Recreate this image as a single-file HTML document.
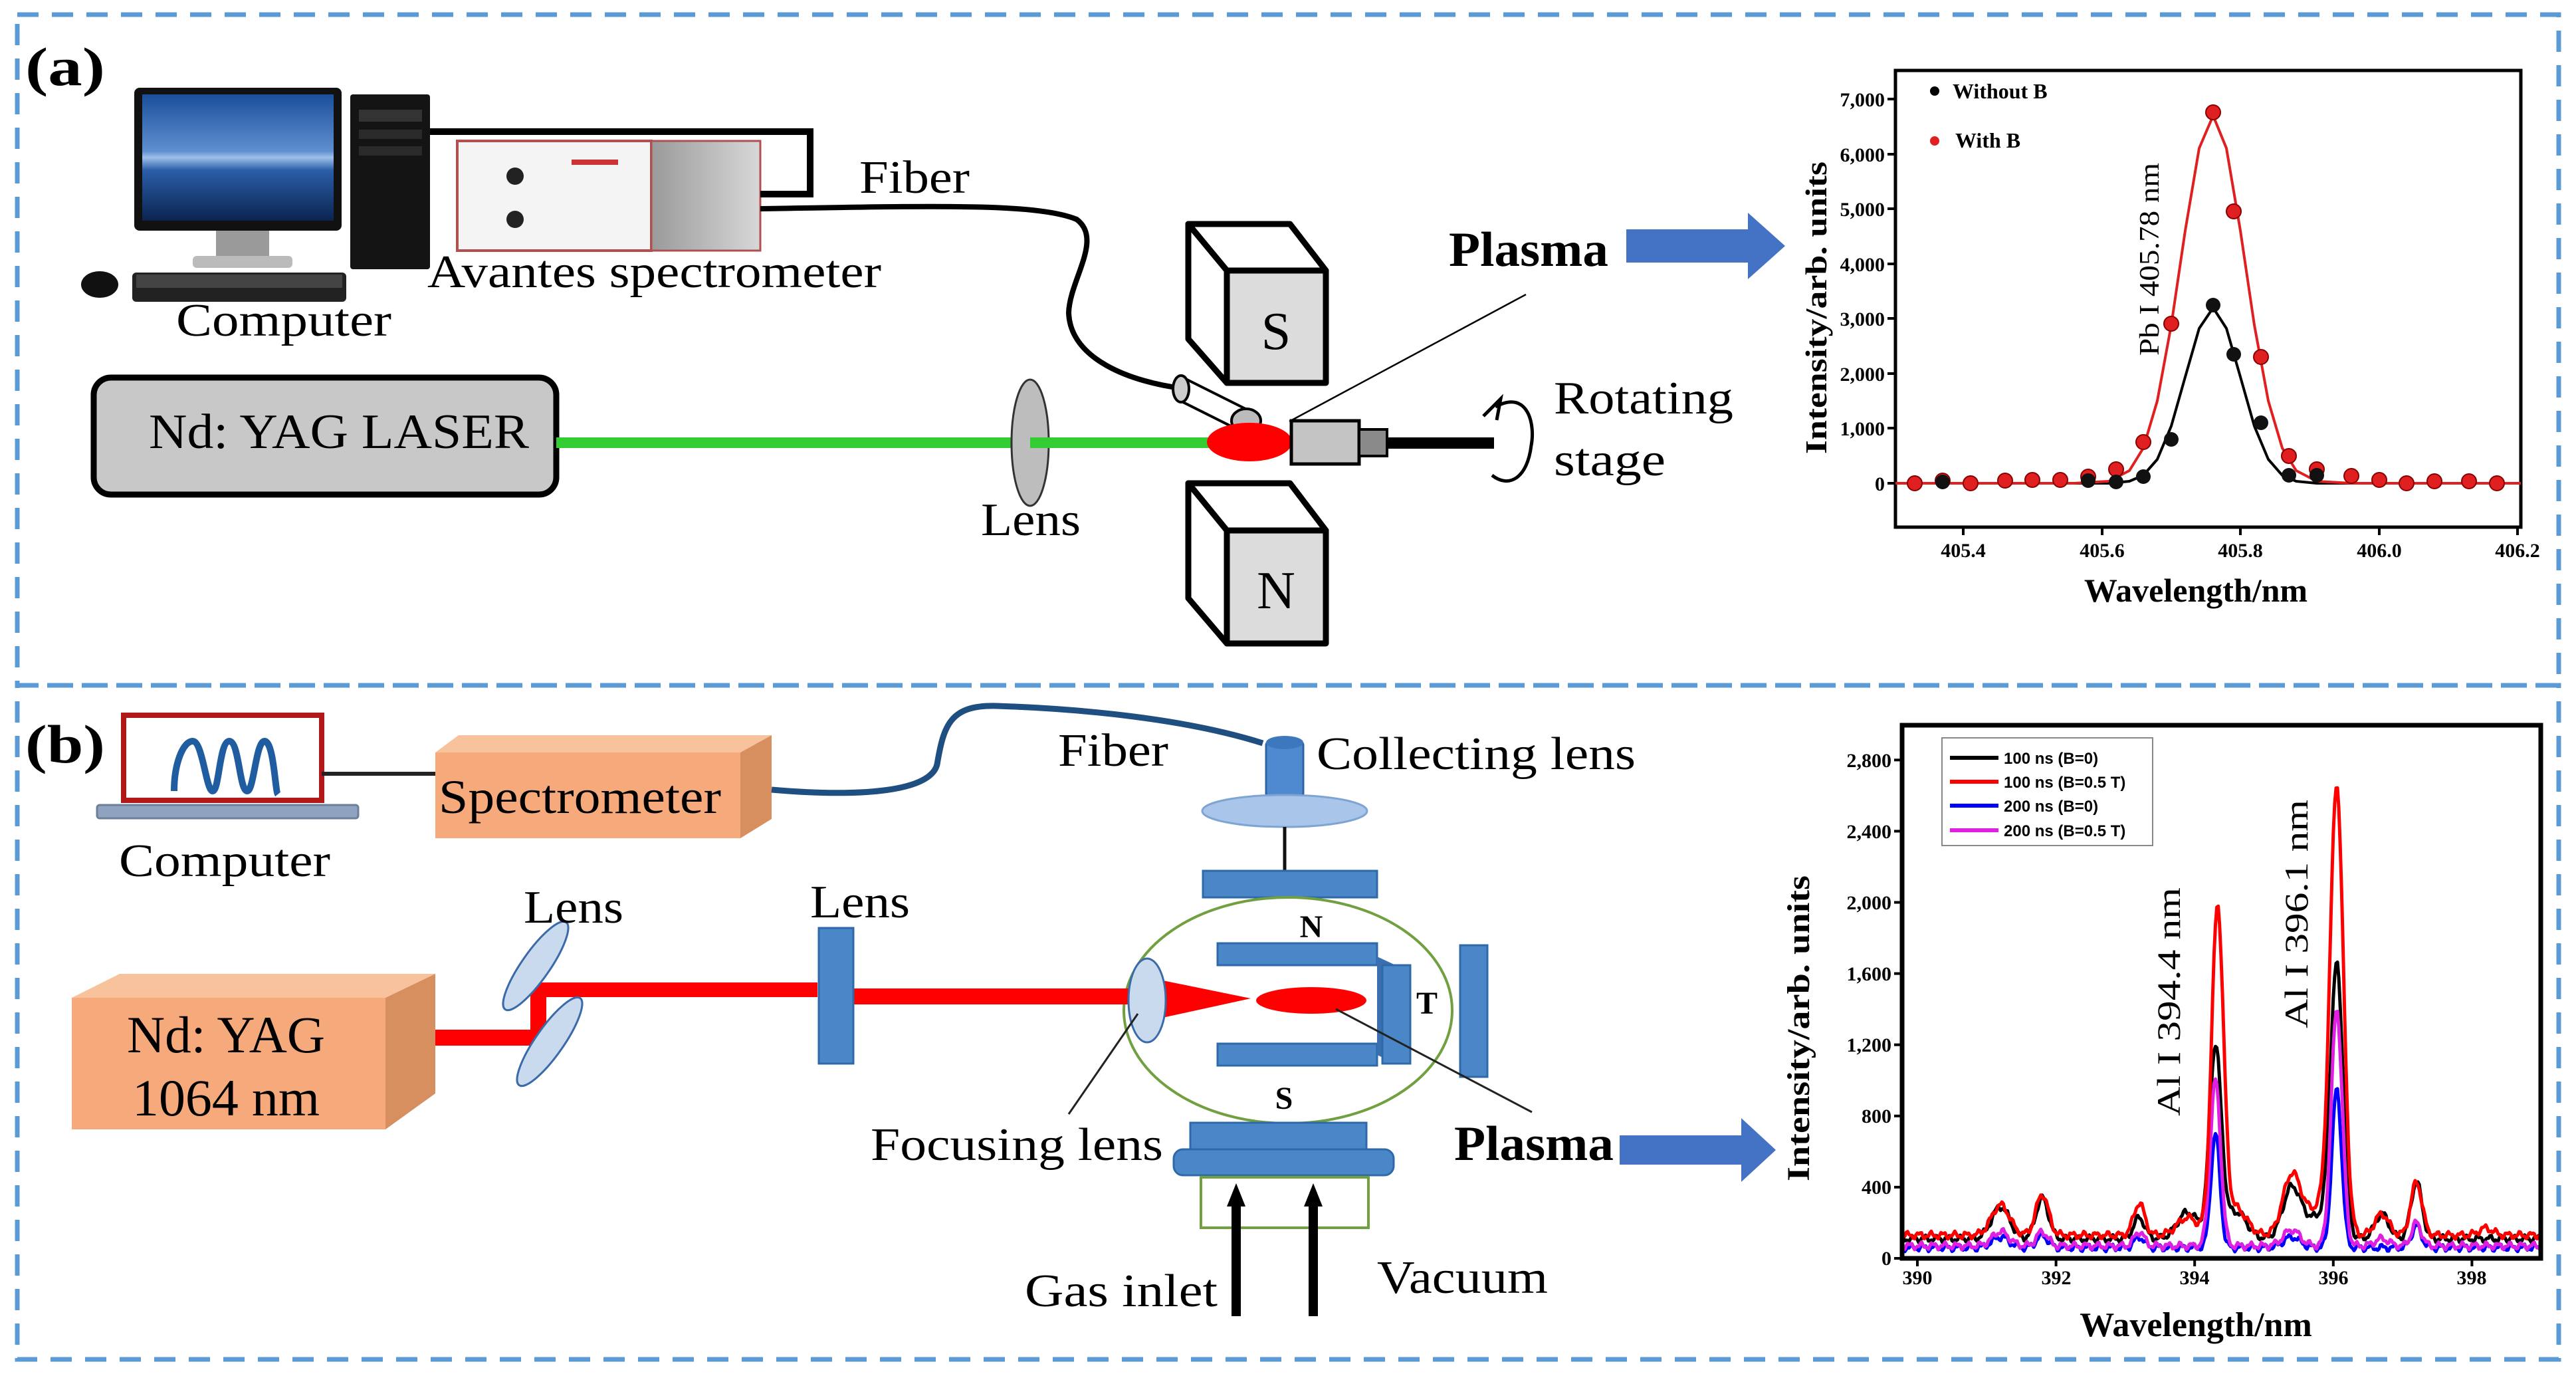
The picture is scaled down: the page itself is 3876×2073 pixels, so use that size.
<!DOCTYPE html>
<html><head><meta charset="utf-8"><style>
html,body{margin:0;padding:0;background:#fff;}
svg{display:block;}
text{font-family:"Liberation Serif",serif;}
.sans{font-family:"Liberation Sans",sans-serif;}
</style></head><body>
<svg width="3876" height="2073" viewBox="0 0 3876 2073" xmlns="http://www.w3.org/2000/svg">
<defs>
<linearGradient id="scr" x1="0" y1="0" x2="0" y2="1">
<stop offset="0" stop-color="#1a4f9a"/><stop offset="0.45" stop-color="#5f8fd0"/><stop offset="0.5" stop-color="#9ec0ea"/><stop offset="0.6" stop-color="#2a5ea8"/><stop offset="1" stop-color="#0c2350"/></linearGradient>
<linearGradient id="spside" x1="0" y1="0" x2="1" y2="0"><stop offset="0" stop-color="#9a9a9a"/><stop offset="1" stop-color="#d8d8d8"/></linearGradient>
</defs>
<rect width="3876" height="2073" fill="#fff"/>
<g fill="none" stroke="#5b9bd5" stroke-width="7" stroke-dasharray="32 20">
<rect x="26" y="22" width="3824" height="1009"/>
<rect x="26" y="1031" width="3824" height="1014"/>
</g>

<!-- ============ PANEL A ============ -->
<text x="38" y="128" font-size="82" font-weight="bold" textLength="120" lengthAdjust="spacingAndGlyphs">(a)</text>
<rect x="202" y="132" width="312" height="215" rx="8" fill="#111"/>
<rect x="214" y="142" width="288" height="190" fill="url(#scr)"/>
<rect x="325" y="347" width="80" height="40" fill="#9a9a9a"/>
<rect x="290" y="385" width="150" height="18" rx="6" fill="#bbb"/>
<rect x="527" y="142" width="120" height="263" rx="4" fill="#141414"/>
<rect x="540" y="165" width="95" height="18" fill="#333"/>
<rect x="540" y="195" width="95" height="14" fill="#2a2a2a"/>
<rect x="540" y="220" width="95" height="14" fill="#2a2a2a"/>
<rect x="199" y="410" width="322" height="44" rx="6" fill="#222"/>
<rect x="205" y="413" width="310" height="20" fill="#444"/>
<ellipse cx="150" cy="428" rx="28" ry="20" fill="#111"/>
<rect x="688" y="212" width="292" height="165" fill="#f4f4f4" stroke="#b05050" stroke-width="4"/>
<rect x="980" y="212" width="164" height="165" fill="url(#spside)" stroke="#b05050" stroke-width="3"/>
<circle cx="775" cy="265" r="13" fill="#222"/><circle cx="775" cy="330" r="13" fill="#222"/>
<rect x="860" y="240" width="70" height="8" fill="#c33"/>
<path d="M647,198 L1219,198 L1219,292 L1144,292" fill="none" stroke="#000" stroke-width="10"/>
<text x="265" y="505" font-size="70" textLength="324" lengthAdjust="spacingAndGlyphs">Computer</text>
<text x="643" y="432" font-size="70" textLength="683" lengthAdjust="spacingAndGlyphs">Avantes spectrometer</text>
<text x="1293" y="290" font-size="70" textLength="166" lengthAdjust="spacingAndGlyphs">Fiber</text>
<path d="M1144,314 C1400,310 1560,305 1620,330 C1660,360 1610,420 1608,470 C1610,540 1700,575 1784,585" fill="none" stroke="#000" stroke-width="8"/>
<path d="M1784,570 L1880,618 L1866,648 L1770,600 z" fill="#fff" stroke="#000" stroke-width="4"/>
<ellipse cx="1777" cy="585" rx="12" ry="20" fill="#ccc" stroke="#000" stroke-width="4"/>
<ellipse cx="1875" cy="633" rx="22" ry="18" fill="#bbb" stroke="#000" stroke-width="4"/>
<g stroke="#000" stroke-width="9" stroke-linejoin="round">
<path d="M1788,337 L1941,337 L1995,407 L1846,407 z" fill="#fff"/>
<path d="M1788,337 L1846,407 L1846,576 L1788,510 z" fill="#fff"/>
<rect x="1846" y="407" width="149" height="169" fill="#dcdcdc"/>
<path d="M1788,727 L1941,727 L1995,798 L1846,798 z" fill="#fff"/>
<path d="M1788,727 L1846,798 L1846,968 L1788,900 z" fill="#fff"/>
<rect x="1846" y="798" width="149" height="170" fill="#dcdcdc"/>
</g>
<text x="1920" y="525" font-size="80" text-anchor="middle">S</text>
<text x="1920" y="915" font-size="80" text-anchor="middle">N</text>
<rect x="141" y="568" width="696" height="176" rx="26" fill="#c8c8c8" stroke="#000" stroke-width="9"/>
<text x="224" y="674" font-size="74" textLength="572" lengthAdjust="spacingAndGlyphs">Nd: YAG LASER</text>
<rect x="837" y="658" width="985" height="16" fill="#33cc33"/>
<ellipse cx="1550" cy="666" rx="28" ry="95" fill="#bdbdbd" stroke="#333" stroke-width="3"/>
<rect x="1550" y="658" width="30" height="16" fill="#33cc33"/>
<text x="1476" y="805" font-size="70" textLength="150" lengthAdjust="spacingAndGlyphs">Lens</text>
<ellipse cx="1880" cy="665" rx="64" ry="29" fill="#f00"/>
<rect x="1943" y="633" width="102" height="65" fill="#c4c4c4" stroke="#000" stroke-width="5"/>
<rect x="2045" y="646" width="42" height="40" fill="#8a8a8a" stroke="#000" stroke-width="4"/>
<rect x="2087" y="658" width="161" height="17" fill="#000"/>
<path d="M2250,612 C2300,585 2310,640 2304,670 C2298,720 2270,735 2245,715" fill="none" stroke="#000" stroke-width="5"/>
<path d="M2232,626 L2258,600 L2252,632" fill="none" stroke="#000" stroke-width="5"/>
<line x1="2296" y1="443" x2="1940" y2="634" stroke="#000" stroke-width="2.5"/>
<text x="2180" y="400" font-size="74" font-weight="bold" textLength="240" lengthAdjust="spacingAndGlyphs">Plasma</text>
<text x="2338" y="622" font-size="70" textLength="270" lengthAdjust="spacingAndGlyphs">Rotating</text>
<text x="2338" y="715" font-size="70" textLength="168" lengthAdjust="spacingAndGlyphs">stage</text>
<path d="M2447,345 L2630,345 L2630,320 L2686,370 L2630,420 L2630,395 L2447,395 z" fill="#4472c4"/>

<rect x="2852" y="106" width="941" height="687" fill="none" stroke="#000" stroke-width="5"/>
<g stroke="#000" stroke-width="4">
<line x1="2852" y1="727" x2="2840" y2="727"/><line x1="2852" y1="644" x2="2840" y2="644"/><line x1="2852" y1="562" x2="2840" y2="562"/><line x1="2852" y1="479" x2="2840" y2="479"/><line x1="2852" y1="397" x2="2840" y2="397"/><line x1="2852" y1="314" x2="2840" y2="314"/><line x1="2852" y1="232" x2="2840" y2="232"/><line x1="2852" y1="149" x2="2840" y2="149"/>
<line x1="2954" y1="793" x2="2954" y2="805"/><line x1="3163" y1="793" x2="3163" y2="805"/><line x1="3371" y1="793" x2="3371" y2="805"/><line x1="3580" y1="793" x2="3580" y2="805"/><line x1="3788" y1="793" x2="3788" y2="805"/>
</g>
<g font-size="30" font-weight="bold" text-anchor="end">
<text x="2836" y="738">0</text><text x="2836" y="655">1,000</text><text x="2836" y="573">2,000</text><text x="2836" y="490">3,000</text><text x="2836" y="408">4,000</text><text x="2836" y="325">5,000</text><text x="2836" y="243">6,000</text><text x="2836" y="160">7,000</text>
</g>
<g font-size="30" font-weight="bold" text-anchor="middle">
<text x="2954" y="838">405.4</text><text x="3163" y="838">405.6</text><text x="3371" y="838">405.8</text><text x="3580" y="838">406.0</text><text x="3788" y="838">406.2</text>
</g>
<text x="3304" y="905" font-size="50" font-weight="bold" text-anchor="middle">Wavelength/nm</text>
<text transform="translate(2748,463) rotate(-90)" font-size="46" font-weight="bold" text-anchor="middle" textLength="440" lengthAdjust="spacingAndGlyphs">Intensity/arb. units</text>
<text transform="translate(3248,390) rotate(-90)" font-size="42" text-anchor="middle" textLength="290" lengthAdjust="spacingAndGlyphs">Pb I 405.78 nm</text>
<circle cx="2911" cy="137" r="7" fill="#000"/><text x="2938" y="148" font-size="32" font-weight="bold">Without B</text>
<circle cx="2911" cy="212" r="7" fill="#e02020"/><text x="2942" y="222" font-size="32" font-weight="bold">With B</text>
<polyline fill="none" stroke="#000" stroke-width="4" stroke-linejoin="round" points="2852,727 3121,727 3173,727 3204,724 3225,715 3246,691 3267,641 3288,567 3309,494 3330,463 3350,494 3371,567 3392,641 3413,691 3434,715 3455,724 3486,727 3793,727"/>
<polyline fill="none" stroke="#e02020" stroke-width="4" stroke-linejoin="round" points="2852,727 3121,727 3173,724 3204,708 3225,674 3246,603 3267,489 3288,347 3309,223 3330,174 3350,223 3371,347 3392,489 3413,603 3434,674 3455,708 3486,724 3538,727 3793,727"/>
<g fill="#e02020" stroke="#800" stroke-width="2">
<circle cx="2881" cy="727" r="11"/><circle cx="2923" cy="723" r="11"/><circle cx="2965" cy="727" r="11"/><circle cx="3017" cy="723" r="11"/><circle cx="3058" cy="722" r="11"/><circle cx="3100" cy="722" r="11"/><circle cx="3142" cy="717" r="11"/><circle cx="3184" cy="706" r="11"/><circle cx="3225" cy="665" r="11"/><circle cx="3267" cy="487" r="11"/><circle cx="3330" cy="169" r="11"/><circle cx="3361" cy="318" r="11"/><circle cx="3402" cy="537" r="11"/><circle cx="3444" cy="686" r="11"/><circle cx="3486" cy="706" r="11"/><circle cx="3538" cy="716" r="11"/><circle cx="3580" cy="722" r="11"/><circle cx="3621" cy="727" r="11"/><circle cx="3663" cy="724" r="11"/><circle cx="3715" cy="724" r="11"/><circle cx="3757" cy="727" r="11"/>
</g>
<g fill="#111">
<circle cx="2923" cy="725" r="11"/><circle cx="3142" cy="723" r="11"/><circle cx="3184" cy="725" r="11"/><circle cx="3225" cy="717" r="11"/><circle cx="3267" cy="661" r="11"/><circle cx="3330" cy="459" r="11"/><circle cx="3361" cy="533" r="11"/><circle cx="3402" cy="636" r="11"/><circle cx="3444" cy="715" r="11"/><circle cx="3486" cy="715" r="11"/>
</g>

<!-- ============ PANEL B ============ -->
<text x="38" y="1147" font-size="82" font-weight="bold" textLength="120" lengthAdjust="spacingAndGlyphs">(b)</text>
<rect x="186" y="1076" width="298" height="128" fill="#fff" stroke="#b01818" stroke-width="8"/>
<path d="M262,1190 C262,1150 275,1115 290,1115 C305,1115 310,1190 320,1190 C330,1190 330,1115 345,1115 C360,1115 360,1190 372,1190 C382,1190 385,1115 398,1115 C412,1115 414,1190 418,1195" fill="none" stroke="#1f5da0" stroke-width="10"/>
<rect x="146" y="1211" width="393" height="20" rx="4" fill="#8fa3c0" stroke="#6d7f99" stroke-width="3"/>
<line x1="484" y1="1164" x2="655" y2="1164" stroke="#222" stroke-width="6"/>
<text x="179" y="1318" font-size="70" textLength="318" lengthAdjust="spacingAndGlyphs">Computer</text>
<path d="M655,1132 L690,1106 L1161,1106 L1114,1132 z" fill="#f7c29c"/>
<path d="M1114,1132 L1161,1106 L1161,1232 L1114,1261 z" fill="#d88f60"/>
<rect x="655" y="1132" width="459" height="129" fill="#f6aa7c"/>
<text x="660" y="1223" font-size="72" textLength="425" lengthAdjust="spacingAndGlyphs">Spectrometer</text>
<path d="M1161,1188 C1300,1200 1400,1190 1410,1150 C1420,1090 1430,1060 1500,1062 C1620,1066 1780,1080 1900,1118" fill="none" stroke="#1f4e80" stroke-width="9"/>
<text x="1592" y="1152" font-size="70" textLength="166" lengthAdjust="spacingAndGlyphs">Fiber</text>
<rect x="1905" y="1115" width="56" height="85" rx="6" fill="#4f8ad0" stroke="#2d64a4" stroke-width="3"/>
<ellipse cx="1933" cy="1117" rx="28" ry="10" fill="#3d78be"/>
<text x="1981" y="1157" font-size="70" textLength="480" lengthAdjust="spacingAndGlyphs">Collecting lens</text>
<ellipse cx="1933" cy="1220" rx="124" ry="24" fill="#a9c6ea" stroke="#7ea4d4" stroke-width="3"/>
<line x1="1933" y1="1244" x2="1933" y2="1310" stroke="#111" stroke-width="5"/>
<rect x="1810" y="1310" width="262" height="40" fill="#4a86c8" stroke="#2f6aa8" stroke-width="3"/>
<ellipse cx="1938" cy="1520" rx="247" ry="170" fill="none" stroke="#70a040" stroke-width="4"/>
<rect x="1832" y="1419" width="240" height="33" fill="#4a86c8" stroke="#2f6aa8" stroke-width="3"/>
<rect x="1832" y="1570" width="240" height="33" fill="#4a86c8" stroke="#2f6aa8" stroke-width="3"/>
<path d="M2072,1439 L2100,1452 L2100,1600 L2072,1587 z" fill="#3a70b0"/>
<rect x="2080" y="1452" width="42" height="148" fill="#4a86c8" stroke="#2f6aa8" stroke-width="3"/>
<rect x="2197" y="1422" width="41" height="198" fill="#4a86c8" stroke="#2f6aa8" stroke-width="3"/>
<text x="1973" y="1410" font-size="48" font-weight="bold" text-anchor="middle">N</text>
<text x="1932" y="1668" font-size="48" font-weight="bold" text-anchor="middle">S</text>
<text x="2147" y="1525" font-size="48" font-weight="bold" text-anchor="middle">T</text>
<path d="M108,1501 L180,1465 L655,1465 L580,1501 z" fill="#f7c29c"/>
<path d="M580,1501 L655,1465 L655,1645 L580,1699 z" fill="#d88f60"/>
<rect x="108" y="1501" width="472" height="198" fill="#f6aa7c"/>
<text x="191" y="1583" font-size="78" textLength="298" lengthAdjust="spacingAndGlyphs">Nd: YAG</text>
<text x="199" y="1678" font-size="78" textLength="282" lengthAdjust="spacingAndGlyphs">1064 nm</text>
<path d="M655,1561 L810,1561 L810,1478" fill="none" stroke="#f00" stroke-width="24"/>
<rect x="798" y="1478" width="432" height="22" fill="#f00"/>
<rect x="1285" y="1487" width="425" height="24" fill="#f00"/>
<path d="M1740,1473 L1882,1502 L1740,1533 z" fill="#f00"/>
<ellipse cx="806" cy="1453" rx="80" ry="21" transform="rotate(-55 806 1453)" fill="#c9d9ee" stroke="#3a6aa8" stroke-width="3"/>
<ellipse cx="827" cy="1567" rx="80" ry="21" transform="rotate(-55 827 1567)" fill="#c9d9ee" stroke="#3a6aa8" stroke-width="3"/>
<text x="788" y="1388" font-size="70" textLength="150" lengthAdjust="spacingAndGlyphs">Lens</text>
<text x="1219" y="1380" font-size="70" textLength="150" lengthAdjust="spacingAndGlyphs">Lens</text>
<rect x="1232" y="1396" width="52" height="204" fill="#4a86c8" stroke="#2f6aa8" stroke-width="3"/>
<ellipse cx="1726" cy="1505" rx="28" ry="63" fill="#c9d9ee" stroke="#3a6aa8" stroke-width="3"/>
<ellipse cx="1973" cy="1505" rx="83" ry="20" fill="#f00"/>
<line x1="1608" y1="1676" x2="1712" y2="1525" stroke="#222" stroke-width="3"/>
<line x1="2010" y1="1518" x2="2305" y2="1673" stroke="#222" stroke-width="3"/>
<text x="1310" y="1745" font-size="70" textLength="440" lengthAdjust="spacingAndGlyphs">Focusing lens</text>
<text x="2188" y="1745" font-size="74" font-weight="bold" textLength="240" lengthAdjust="spacingAndGlyphs">Plasma</text>
<rect x="1791" y="1689" width="265" height="40" fill="#4a86c8" stroke="#2f6aa8" stroke-width="3"/>
<rect x="1766" y="1729" width="331" height="39" rx="14" fill="#4a86c8" stroke="#2f6aa8" stroke-width="3"/>
<rect x="1807" y="1771" width="252" height="76" fill="none" stroke="#70a040" stroke-width="4"/>
<line x1="1860" y1="1980" x2="1860" y2="1810" stroke="#000" stroke-width="14"/>
<path d="M1846,1815 L1860,1780 L1874,1815 z" fill="#000"/>
<line x1="1976" y1="1980" x2="1976" y2="1810" stroke="#000" stroke-width="14"/>
<path d="M1962,1815 L1976,1780 L1990,1815 z" fill="#000"/>
<text x="1542" y="1965" font-size="70" textLength="290" lengthAdjust="spacingAndGlyphs">Gas inlet</text>
<text x="2072" y="1945" font-size="70" textLength="257" lengthAdjust="spacingAndGlyphs">Vacuum</text>
<path d="M2437,1708 L2620,1708 L2620,1682 L2672,1730 L2620,1778 L2620,1752 L2437,1752 z" fill="#4472c4"/>

<g id="specs" fill="none" stroke-width="5" stroke-linejoin="round"></g>
<rect x="2862" y="1091" width="961" height="802" fill="none" stroke="#000" stroke-width="7"/>
<g stroke="#000" stroke-width="4" id="ticksb"></g>
<g font-size="30" font-weight="bold" text-anchor="end">
<text x="2846" y="1903">0</text><text x="2846" y="1796">400</text><text x="2846" y="1689">800</text><text x="2846" y="1582">1,200</text><text x="2846" y="1475">1,600</text><text x="2846" y="1368">2,000</text><text x="2846" y="1261">2,400</text><text x="2846" y="1154">2,800</text>
</g>
<g font-size="30" font-weight="bold" text-anchor="middle">
<text x="2885" y="1932">390</text><text x="3094" y="1932">392</text><text x="3302" y="1932">394</text><text x="3511" y="1932">396</text><text x="3719" y="1932">398</text>
</g>
<text x="3304" y="2010" font-size="52" font-weight="bold" text-anchor="middle">Wavelength/nm</text>
<text transform="translate(2722,1547) rotate(-90)" font-size="48" font-weight="bold" text-anchor="middle" textLength="460" lengthAdjust="spacingAndGlyphs">Intensity/arb. units</text>
<text transform="translate(3280,1507) rotate(-90)" font-size="50" text-anchor="middle" textLength="344" lengthAdjust="spacingAndGlyphs">Al I 394.4 nm</text>
<text transform="translate(3472,1375) rotate(-90)" font-size="50" text-anchor="middle" textLength="344" lengthAdjust="spacingAndGlyphs">Al I 396.1 nm</text>
<rect x="2922" y="1110" width="317" height="162" fill="#fff" stroke="#888" stroke-width="2"/>
<g stroke-width="6"><line x1="2934" y1="1140" x2="3007" y2="1140" stroke="#000"/><line x1="2934" y1="1176" x2="3007" y2="1176" stroke="#f00"/><line x1="2934" y1="1212" x2="3007" y2="1212" stroke="#00f"/><line x1="2934" y1="1249" x2="3007" y2="1249" stroke="#e020e0"/></g>
<g font-size="24" font-weight="bold">
<text class="sans" x="3015" y="1149">100 ns (B=0)</text><text class="sans" x="3015" y="1185">100 ns (B=0.5 T)</text><text class="sans" x="3015" y="1221">200 ns (B=0)</text><text class="sans" x="3015" y="1258">200 ns (B=0.5 T)</text>
</g>
</svg>
<script>
(function(){
var NS="http://www.w3.org/2000/svg";
function X(w){return 2885+(w-390)*104.3;}
function Y(v){return 1893-v*0.2678;}
var sets=[
 ["#000",110,[[391.2,180,.13],[391.8,230,.09],[393.2,120,.08],[393.9,150,.15],[394.3,1070,.085],[394.6,150,.15],[395.4,280,.13],[395.8,120,.2],[396.05,1490,.09],[396.7,140,.1],[397.2,320,.08]]],
 ["#00f",60,[[391.2,60,.12],[391.8,70,.08],[393.2,60,.07],[394.3,640,.065],[395.4,60,.12],[396.05,890,.07],[397.2,120,.07]]],
 ["#e020e0",70,[[391.2,80,.12],[391.8,80,.08],[393.2,80,.07],[394.3,930,.075],[395.4,90,.12],[396.05,1330,.08],[396.7,40,.1],[397.2,130,.07]]],
 ["#f00",130,[[391.2,170,.13],[391.8,230,.09],[393.2,180,.08],[393.9,100,.15],[394.33,1830,.085],[394.6,150,.15],[395.4,330,.13],[395.8,150,.2],[396.05,2470,.095],[396.7,120,.1],[397.2,300,.08],[398.2,40,.1]]]
];
var g=document.getElementById("specs");
sets.forEach(function(s,k){
 var pts=[];
 for(var w=389.8;w<=399.0;w+=0.02){
  var v=s[1]+15*Math.sin(w*37+k)+8*Math.sin(w*91);
  s[2].forEach(function(p){v+=p[1]*Math.exp(-(w-p[0])*(w-p[0])/(2*p[2]*p[2]));});
  pts.push(X(w).toFixed(1)+","+Y(v).toFixed(1));
 }
 var pl=document.createElementNS(NS,"polyline");
 pl.setAttribute("points",pts.join(" "));pl.setAttribute("stroke",s[0]);
 g.appendChild(pl);
});
var t=document.getElementById("ticksb");
for(var i=0;i<8;i++){var l=document.createElementNS(NS,"line");var y=1893-i*107.1;l.setAttribute("x1",2862);l.setAttribute("x2",2850);l.setAttribute("y1",y);l.setAttribute("y2",y);t.appendChild(l);}
for(var j=0;j<5;j++){var l2=document.createElementNS(NS,"line");var x=2885+j*208.6;l2.setAttribute("x1",x);l2.setAttribute("x2",x);l2.setAttribute("y1",1893);l2.setAttribute("y2",1905);t.appendChild(l2);}
})();
</script>
</body></html>
